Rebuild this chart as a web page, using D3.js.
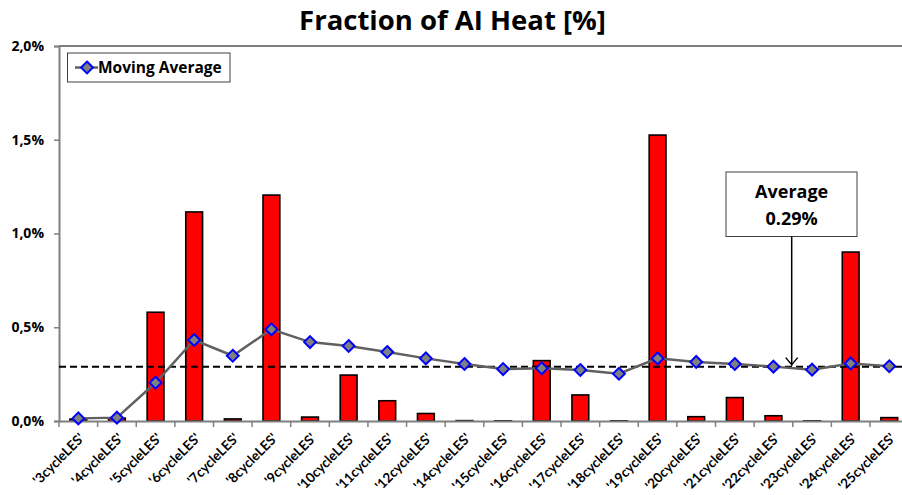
<!DOCTYPE html>
<html><head><meta charset="utf-8">
<script src="https://cdn.jsdelivr.net/npm/d3@7"></script>
<style>body{margin:0;background:#fff;} svg{display:block;}</style>
</head><body><svg id="c" width="902" height="495"></svg>
<script>
const categories = ["'3cycleLES'","'4cycleLES'","'5cycleLES'","'6cycleLES'","'7cycleLES'","'8cycleLES'","'9cycleLES'","'10cycleLES'","'11cycleLES'","'12cycleLES'","'14cycleLES'","'15cycleLES'","'16cycleLES'","'17cycleLES'","'18cycleLES'","'19cycleLES'","'20cycleLES'","'21cycleLES'","'22cycleLES'","'23cycleLES'","'24cycleLES'","'25cycleLES'"];
const fraction = [0.010,0.015,0.580,1.115,0.011,1.205,0.021,0.245,0.108,0.040,0.002,0.001,0.322,0.139,0.001,1.525,0.023,0.125,0.028,0.001,0.901,0.018];
const movingAvg = [0.014,0.018,0.204,0.432,0.348,0.489,0.421,0.400,0.368,0.334,0.304,0.277,0.281,0.272,0.252,0.334,0.315,0.304,0.290,0.274,0.307,0.292];
const averageValue = 0.29;
const yTicks = [0,0.5,1.0,1.5,2.0];
const titleText = "Fraction of AI Heat [%]";
const legendText = "Moving Average";
const annoLines = ["Average","0.29%"];

const svg = d3.select("#c");
const font = "'Open Sans', sans-serif";
const labelFont = "Lato, 'Open Sans', sans-serif";
const L = 59, T = 46, B = 421, R = 908.6;
const x = d3.scaleBand().domain(categories).range([L, R]).paddingInner(0).paddingOuter(0);
const y = d3.scaleLinear().domain([0, 2]).range([B, T]);
const cx = d => x(d) + x.bandwidth()/2;

// title
svg.append("text").attr("x", 452.5).attr("y", 30).attr("text-anchor","middle")
  .attr("font-family", font).attr("font-weight","bold").attr("font-size", 27.5).attr("fill","#000").text(titleText);

// plot border (top)
svg.append("line").attr("x1",L).attr("x2",R).attr("y1",T).attr("y2",T).attr("stroke","#808080").attr("stroke-width",2);

// y axis
const yAxis = d3.axisLeft(y).tickValues(yTicks).tickSize(5).tickFormat(d => d3.format(".1f")(d).replace(".", ",") + "%");
const gy = svg.append("g").attr("transform", `translate(${L},0)`).call(yAxis);
gy.select(".domain").attr("stroke","#808080").attr("stroke-width",2);
gy.selectAll(".tick line").attr("stroke","#808080").attr("stroke-width",1.5);
gy.selectAll(".tick text").attr("font-family", font).attr("font-weight","bold").attr("font-size",14).attr("fill","#000").attr("x",-15);

// bars
svg.append("g").selectAll("rect").data(categories).join("rect")
  .attr("x", (d) => cx(d) - 8.4)
  .attr("width", 16.8)
  .attr("y", (d,i) => y(fraction[i]))
  .attr("height", (d,i) => B - y(fraction[i]))
  .attr("fill", "#ff0000").attr("stroke","#000").attr("stroke-width",1.6);

// x axis
const xAxis = d3.axisBottom(x).tickSize(0).tickFormat("");
const gx = svg.append("g").attr("transform", `translate(0,${B})`).call(xAxis);
gx.select(".domain").attr("stroke","#808080").attr("stroke-width",2);
// boundary ticks
svg.append("g").selectAll("line").data(d3.range(categories.length+1)).join("line")
  .attr("x1", i => L + i*x.step()).attr("x2", i => L + i*x.step())
  .attr("y1", B).attr("y2", B+6).attr("stroke","#808080").attr("stroke-width",1.5);
// labels
svg.append("g").selectAll("text").data(categories).join("text")
  .attr("transform", d => `translate(${cx(d)+7},${439}) rotate(-45)`)
  .attr("text-anchor","end")
  .attr("font-family", labelFont).attr("font-weight","bold").attr("font-size",13.5).attr("fill","#000")
  .text(d => d);

// average dashed line
svg.append("line").attr("x1",L).attr("x2",902).attr("y1",y(averageValue)).attr("y2",y(averageValue))
  .attr("stroke","#000").attr("stroke-width",2).attr("stroke-dasharray","7,4");

// moving average line
const line = d3.line().x((d,i) => cx(categories[i])).y(d => y(d));
svg.append("path").datum(movingAvg).attr("d", line).attr("fill","none").attr("stroke","#606060").attr("stroke-width",2.5);
const diamond = d3.symbol().type(d3.symbolDiamond2).size(90);
svg.append("g").selectAll("path").data(movingAvg).join("path")
  .attr("transform", (d,i) => `translate(${cx(categories[i])},${y(d)})`)
  .attr("d", diamond).attr("fill","#808080").attr("stroke","#0000ff").attr("stroke-width",2);

// legend
svg.append("rect").attr("x",67.5).attr("y",53).attr("width",162.5).attr("height",29).attr("fill","#fff").attr("stroke","#404040").attr("stroke-width",1);
svg.append("line").attr("x1",75).attr("x2",98).attr("y1",67.5).attr("y2",67.5).attr("stroke","#606060").attr("stroke-width",2.5);
svg.append("path").attr("transform","translate(87,67.5)").attr("d", diamond).attr("fill","#808080").attr("stroke","#0000ff").attr("stroke-width",2);
svg.append("text").attr("x",98).attr("y",73).attr("font-family",font).attr("font-weight","bold").attr("font-size",15.5).attr("fill","#000").text(legendText);

// annotation
const ax = 791.7;
svg.append("rect").attr("x",726).attr("y",172).attr("width",131).attr("height",64.5).attr("fill","#fff").attr("stroke","#404040").attr("stroke-width",1);
svg.selectAll(".anno").data(annoLines).join("text").attr("class","anno")
  .attr("x", ax).attr("y",(d,i) => 198 + i*27).attr("text-anchor","middle")
  .attr("font-family",font).attr("font-weight","bold").attr("font-size",18).attr("fill","#000").text(d => d);
svg.append("line").attr("x1",ax).attr("x2",ax).attr("y1",236.5).attr("y2",y(averageValue)-1).attr("stroke","#000").attr("stroke-width",1.5);
svg.append("path").attr("d", `M${ax-6},${y(averageValue)-9} L${ax},${y(averageValue)-2} L${ax+6},${y(averageValue)-9}`)
  .attr("fill","none").attr("stroke","#000").attr("stroke-width",1.5);
</script></body></html>
